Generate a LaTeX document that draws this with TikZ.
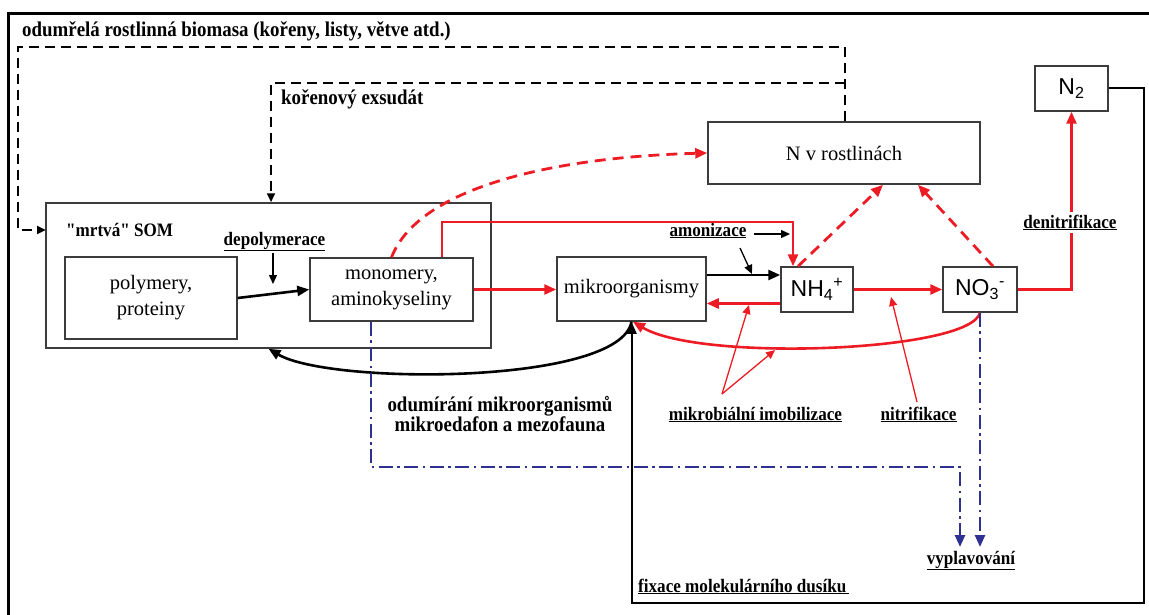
\documentclass[tikz,border=0pt]{standalone}
\usepackage{fontspec}
\setmainfont{Liberation Serif}
\newfontfamily\labf{Liberation Serif}[FakeStretch=0.9]
\newfontfamily\sansf{Liberation Sans}
\usetikzlibrary{arrows.meta,calc}
\definecolor{rd}{RGB}{237,28,36}
\definecolor{bl}{RGB}{46,49,146}
\definecolor{bx}{RGB}{60,60,60}
\begin{document}
\begin{tikzpicture}[x=1pt,y=-1pt,
  box/.style={draw=bx,line width=1.5pt,inner sep=0pt,align=center,font=\fontsize{20.5}{26}\selectfont},
  chem/.style={box,font=\sansf\fontsize{23}{26}\selectfont},
  lbl/.style={inner sep=0pt,font=\labf\bfseries\fontsize{19}{21}\selectfont},
  blbl/.style={inner sep=0pt,font=\labf\bfseries\fontsize{21}{20}\selectfont},
  bigtip/.style={-{Triangle[length=12pt,width=10pt]}},
  smalltip/.style={-{Triangle[length=9pt,width=8pt]}},
  bconn/.style={line width=2.6pt,bigtip},
  rconn/.style={line width=2.6pt,draw=rd,bigtip},
  bdash/.style={line width=2.5pt,dash pattern=on 10pt off 6pt,smalltip},
  rdash/.style={line width=2.8pt,draw=rd,dash pattern=on 11pt off 7pt,bigtip},
  bdd/.style={line width=2.5pt,draw=bl,dash pattern=on 14pt off 4.5pt on 2.5pt off 4.5pt,bigtip},
  thinb/.style={line width=1.3pt,smalltip},
  rthin/.style={line width=1.3pt,draw=rd,smalltip}
]
\useasboundingbox (0,0) rectangle (1149,615);
\draw[line width=3.5pt] (8.5,615) -- (8.5,13.5) -- (1149,13.5);

% boxes
\node[box,minimum width=445pt,minimum height=145pt] (som) at (268.5,275.5) {};
\node[box,minimum width=172pt,minimum height=82pt] (poly) at (151,298) {polymery,\\proteiny};
\node[box,minimum width=163pt,minimum height=63pt] (mono) at (391.5,289.5) {monomery,\\aminokyseliny};
\node[box,minimum width=149pt,minimum height=64pt] (mik) at (631.5,289) {mikroorganismy};
\node[chem,minimum width=72pt,minimum height=45pt] (nh4) at (817,289.5) {NH\textsubscript{4}\textsuperscript{+}};
\node[chem,minimum width=74pt,minimum height=45pt] (no3) at (980,289.5) {NO\textsubscript{3}\textsuperscript{-}};
\node[box,minimum width=272pt,minimum height=62pt] (rost) at (844,153) {N v rostlinách};
\node[chem,minimum width=73pt,minimum height=45pt] (n2) at (1071.5,88.5) {N\textsubscript{2}};

% labels
\node[blbl,anchor=base west] (title) at (22,37) {odumřelá rostlinná biomasa (kořeny, listy, větve atd.)};
\node[blbl,anchor=base west] (exs) at (281,105) {kořenový exsudát};
\node[lbl,anchor=base west] (somt) at (66,236) {"mrtvá" SOM};
\node[lbl,anchor=base] (depol) at (274.5,245) {\underline{depolymerace}};
\node[lbl,anchor=base] (amon) at (708,236) {\underline{amonizace}};
\node[lbl,anchor=base] (mimob) at (755.5,420) {\underline{mikrobiální imobilizace}};
\node[lbl,anchor=base] (nitr) at (918.5,420) {\underline{nitrifikace}};
\node[blbl,align=center] (odum) at (500,414) {odumírání mikroorganismů\\mikroedafon a mezofauna};
\node[lbl,anchor=base] (vypl) at (971,564) {\underline{vyplavování}};
\node[lbl,anchor=base west] (fix) at (638,592) {\underline{fixace molekulárního dusíku\,}};

% coordinates
\coordinate (c1) at (18,47);
\coordinate (c2) at (46,230);
\coordinate (c3) at (845,83);
\coordinate (c4) at (793,222);
\coordinate (c5) at (960,467);
\coordinate (c6) at (960,547);
\coordinate (c7) at (980,547);
\coordinate (c8) at (1144,603);
\coordinate (a1) at (754,234);
\coordinate (a2) at (790,234);
\coordinate (d1) at (740,248);
\coordinate (d2) at (752,274);
\coordinate (p1) at (273,253);
\coordinate (p2) at (273,284);
\coordinate (v1) at (722,394);
\coordinate (v2) at (749,305);
\coordinate (v3) at (775,350);
\coordinate (n1) at (917,402);
\coordinate (n3) at (891,297);

% dashed black
\draw[bdash] ([xshift=1pt]rost.north) |- (c1) |- (c2);
\draw[bdash] (c3) -| ([xshift=2.5pt]som.north);

% black
\draw[bconn] (poly.east) -- (mono.west);
\draw[thinb] (p1) -- (p2);
\draw[thinb] (a1) -- (a2);
\draw[thinb] (d1) -- (d2);
\draw[bconn] ([yshift=14pt]mik.east) -- ([yshift=14pt]mik.east -| nh4.west);
\draw[bconn] (mik.south) .. controls (620,385) and (330,385) .. (som.south);
\draw[line width=2pt,bigtip] (n2.east) -| (c8) -| (mik.south);

% red
\draw[rconn] (mono.east) -- (mono.east -| mik.west);
\draw[rconn] ([xshift=50.5pt]mono.north) |- (c4) -- ([xshift=-24pt]nh4.north);
\draw[rconn] ([yshift=-14pt]nh4.west) -- ([yshift=-14pt]nh4.west -| mik.east);
\draw[rconn] (nh4.east) -- (no3.west);
\draw[rconn] (no3.east) -| (n2.south);
\draw[rdash] ([xshift=-19pt]nh4.north) -- ([xshift=39pt]rost.south);
\draw[rdash] ([xshift=13pt]no3.north) -- ([xshift=74pt]rost.south);
\draw[rdash] (mono.north) .. controls (420,185) and (560,157) .. (rost.west);
\draw[rconn] (no3.south) .. controls (970,352) and (700,362) .. ([xshift=1.5pt]mik.south);
\draw[rthin] (v1) -- (v2);
\draw[rthin] (v1) -- (v3);
\draw[rthin] (n1) -- (n3);
\node[lbl,anchor=base,fill=white,inner sep=2.5pt] (denit) at (1070,228) {\underline{denitrifikace}};

% blue
\draw[bdd] ([xshift=-20.5pt]mono.south) |- (c5) -- (c6);
\draw[bdd] (no3.south) -- (c7);
\end{tikzpicture}
\end{document}
